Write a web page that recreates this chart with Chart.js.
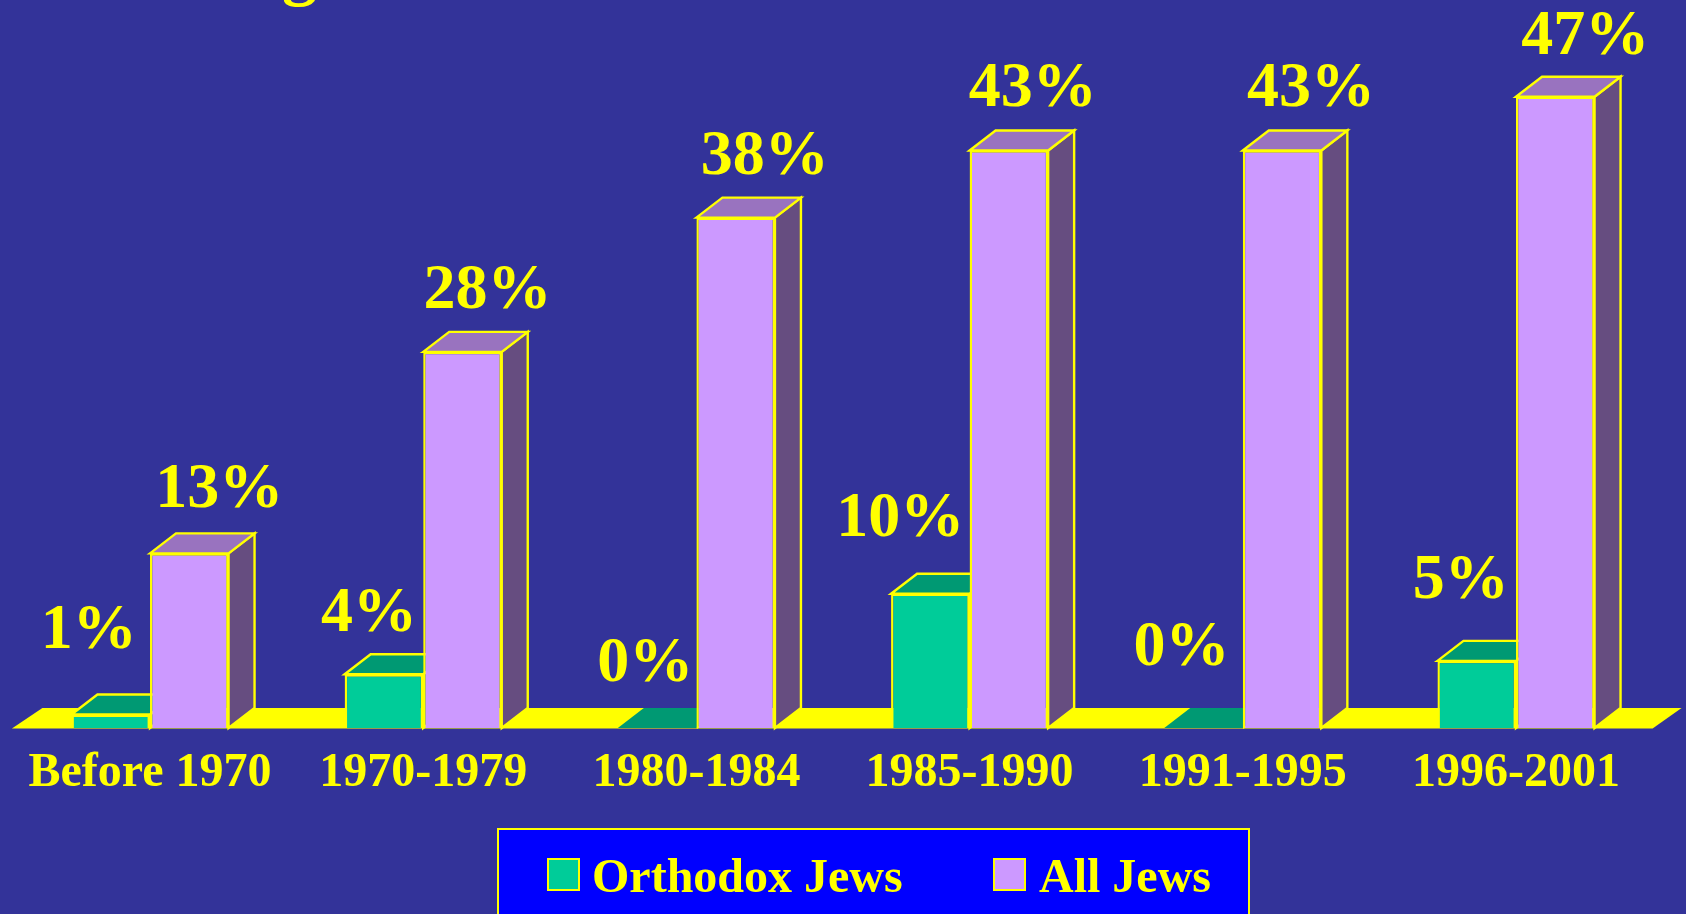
<!DOCTYPE html>
<html>
<head>
<meta charset="utf-8">
<style>html,body{margin:0;padding:0;background:#333399;overflow:hidden}canvas{display:block}</style>
<script src="https://cdn.jsdelivr.net/npm/chart.js@4"></script>
</head>
<body>
<canvas id="c" width="1686" height="914"></canvas>
<script>
const categories = ["Before 1970","1970-1979","1980-1984","1985-1990","1991-1995","1996-2001"];
const orthodoxJews = [1,4,0,10,0,5];
const allJews = [13,28,38,43,43,47];

const FONT = "'Liberation Serif'";
const YELLOW = "#ffff00";
const depth = {dx:26, dy:20};
const orthodoxNudge = [[-22,67],[-15,43],[-12,47],[-30,58],[-22,63],[-16,63]];
const allNudge = [[30,46],[25,44],[29,44],[24,44],[29,44],[30,43]];
const faces = [
  {top:"#009973", side:"#006650", nudge:orthodoxNudge},
  {top:"#9973bf", side:"#664d80", nudge:allNudge}
];

const box3d = {
  id:"box3d",
  beforeDatasetsDraw(chart){
    const {ctx, chartArea:a} = chart;
    const y0 = a.bottom;
    ctx.save();
    ctx.fillStyle = YELLOW;
    ctx.beginPath();
    ctx.moveTo(a.left-1.5,y0+0.5);
    ctx.lineTo(a.right,y0+0.5);
    ctx.lineTo(a.right+depth.dx+3,y0-depth.dy);
    ctx.lineTo(a.left+depth.dx+3,y0-depth.dy);
    ctx.closePath();
    ctx.fill();
    ctx.lineWidth = 2.4;
    ctx.strokeStyle = YELLOW;
    ctx.lineJoin = "miter";
    chart.data.datasets.forEach((ds,di)=>{
      chart.getDatasetMeta(di).data.forEach(b=>{
        const l=b.x-b.width/2, r=b.x+b.width/2, t=b.y, base=b.base;
        ctx.fillStyle = faces[di].side;
        ctx.beginPath();
        ctx.moveTo(r,t);ctx.lineTo(r+depth.dx,t-depth.dy);ctx.lineTo(r+depth.dx,base-depth.dy);ctx.lineTo(r,base);ctx.closePath();
        ctx.fill();ctx.stroke();
        ctx.fillStyle = faces[di].top;
        ctx.beginPath();
        ctx.moveTo(l,t);ctx.lineTo(l+depth.dx,t-depth.dy);ctx.lineTo(r+depth.dx,t-depth.dy);ctx.lineTo(r,t);ctx.closePath();
        ctx.fill();
        if(base-t>1) ctx.stroke();
      });
    });
    ctx.restore();
  },
  afterDatasetsDraw(chart){
    const {ctx} = chart;
    ctx.save();
    ctx.fillStyle = YELLOW;
    ctx.font = "bold 64px "+FONT;
    ctx.textAlign = "center";
    ctx.textBaseline = "alphabetic";
    chart.data.datasets.forEach((ds,di)=>{
      chart.getDatasetMeta(di).data.forEach((b,i)=>{
        const n = faces[di].nudge[i];
        ctx.fillText(ds.data[i]+"%", b.x+n[0], b.y-n[1]);
      });
    });
    // clipped remnant of the slide title at the top edge
    ctx.font = "bold 70px "+FONT;
    ctx.textAlign = "left";
    ctx.fillText("g", 282, -8);
    // legend panel
    ctx.fillStyle = "#0000ff";
    ctx.strokeStyle = YELLOW;
    ctx.lineWidth = 2;
    ctx.fillRect(498,829,751,100);
    ctx.strokeRect(498,829,751,100);
    const items = [{sx:548,tx:592},{sx:994,tx:1039}];
    ctx.font = "bold 48px "+FONT;
    chart.data.datasets.forEach((ds,i)=>{
      ctx.fillStyle = ds.backgroundColor;
      ctx.fillRect(items[i].sx,859,31,31);
      ctx.strokeRect(items[i].sx,859,31,31);
      ctx.fillStyle = YELLOW;
      ctx.fillText(ds.label, items[i].tx, 892);
    });
    ctx.restore();
  }
};

new Chart(document.getElementById("c"),{
  type:"bar",
  data:{
    labels:categories,
    datasets:[
      {label:"Orthodox Jews",data:orthodoxJews,backgroundColor:"#00cc99",borderColor:YELLOW,borderWidth:2.4},
      {label:"All Jews",data:allJews,backgroundColor:"#cc99ff",borderColor:YELLOW,borderWidth:2.4}
    ]
  },
  options:{
    responsive:false,
    animation:false,
    events:[],
    layout:{padding:{left:13.4,right:33.4,top:0,bottom:0}},
    datasets:{bar:{categoryPercentage:0.575,barPercentage:1,grouped:true}},
    plugins:{legend:{display:false},tooltip:{enabled:false},title:{display:false}},
    scales:{
      x:{
        grid:{display:false},border:{display:false},
        ticks:{color:YELLOW,font:{family:FONT,weight:"bold",size:48},maxRotation:0,autoSkip:false,padding:9},
        afterFit(s){s.height=186;}
      },
      y:{display:false,min:0,max:54.2}
    }
  },
  plugins:[box3d]
});
</script>
</body>
</html>
